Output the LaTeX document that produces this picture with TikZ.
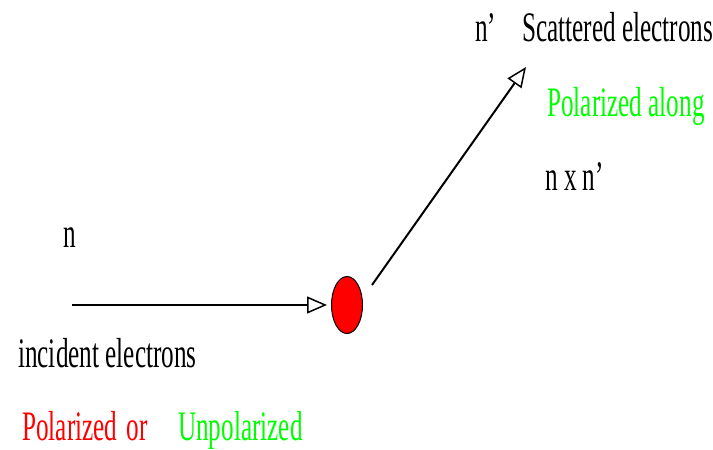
\documentclass[tikz,border=0pt]{standalone}
\usepackage{fontspec}
\setmainfont{Liberation Serif}[FakeStretch=0.6]
\usetikzlibrary{arrows.meta,shapes.geometric}
\definecolor{pured}{RGB}{255,0,0}
\definecolor{pugreen}{RGB}{0,255,0}
\begin{document}
\begin{tikzpicture}[x=1pt,y=-1pt,
  lbl/.style={anchor=base west,inner sep=0pt,font=\fontsize{42}{48}\selectfont},
  beam/.style={line width=2pt,-{Triangle[open,length=20pt,width=17pt,line width=1.5pt]}}]
\useasboundingbox (0,0) rectangle (713,450);
\fill[white] (0,0) rectangle (713,450);
% target
\node[ellipse,draw=black,line width=1pt,fill=pured,minimum width=31pt,minimum height=57pt,inner sep=0pt] (target) at (347,305) {};
% beams
\coordinate (inc) at (72,305);
\coordinate (incend) at (327,305);
\coordinate (scatstart) at (372,285);
\coordinate (scatend) at (526,67);
\draw[beam] (inc) -- (incend);
\draw[beam] (scatstart) -- (scatend);
% labels
\node[lbl] (np) at (475,41) {n’};
\node[lbl] (scat) at (522,41) {Scattered electrons};
\node[lbl,text=pugreen] (polalong) at (547,116) {Polarized along};
\node[lbl] (nxn) at (545,190) {n x n’};
\node[lbl] (n) at (63,247) {n};
\node[lbl] (incl) at (18,367) {incident electrons};
\node[lbl,text=pured] (polor) at (22,440) {Polarized};
\node[lbl,text=pured,anchor=base east] (or) at (148,440) {or};
\node[lbl,text=pugreen] (unpol) at (178,440) {Unpolarized};
\end{tikzpicture}
\end{document}
